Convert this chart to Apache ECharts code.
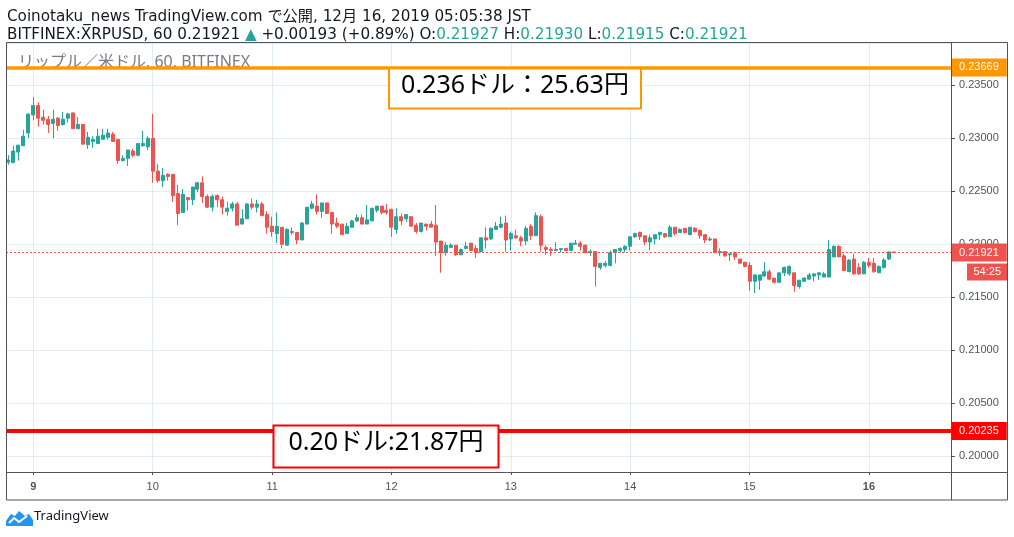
<!DOCTYPE html>
<html>
<head>
<meta charset="utf-8">
<script src="https://cdn.jsdelivr.net/npm/echarts@6/dist/echarts.min.js"></script>
<style>
html, body { margin: 0; padding: 0; background: #fff; }
#main { width: 1014px; height: 537px; }
</style>
</head>
<body>
<div id="main"></div>
<script>
// XRPUSD 60分足 (BITFINEX) 12/8 19:00 〜 12/16 05:00 JST
var firstDay = 8, firstHour = 19;
var slotCount = 190;          // 179本 + 右側の余白
var boldDays = [9, 16];

var opens = [
  0.22775, 0.2277, 0.2287, 0.2293, 0.2305, 0.2322, 0.2331, 0.2320, 0.2318, 0.2314,
  0.2319, 0.2313, 0.2319, 0.2324, 0.2309, 0.2313, 0.2294, 0.2297, 0.2295, 0.2299,
  0.2301, 0.2304, 0.2299, 0.2279, 0.2281, 0.2288, 0.2284, 0.2293, 0.2292, 0.2300,
  0.2269, 0.2260, 0.2266, 0.2266, 0.2248, 0.2230, 0.2244, 0.2242, 0.2252, 0.2258,
  0.2245, 0.2235, 0.2246, 0.2242, 0.2231, 0.2234, 0.2238, 0.2219, 0.2224, 0.2238,
  0.2235, 0.2238, 0.2228, 0.2217, 0.2210, 0.2216, 0.2199, 0.2212, 0.2211, 0.2204,
  0.2219, 0.2234, 0.2236, 0.2231, 0.2239, 0.2230, 0.2220, 0.2219, 0.2210, 0.2216,
  0.2222, 0.2225, 0.2219, 0.2222, 0.2232, 0.2236, 0.2232, 0.2233, 0.2214, 0.2226,
  0.2224, 0.2226, 0.2218, 0.2212, 0.2219, 0.2219, 0.2218, 0.2203, 0.2192, 0.2197,
  0.2199, 0.2190, 0.2196, 0.2201, 0.2196, 0.2193, 0.2206, 0.2205, 0.2214, 0.2216,
  0.2220, 0.2205, 0.2208, 0.2206, 0.2203, 0.2217, 0.2208, 0.2226, 0.2197, 0.2195,
  0.2194, 0.2195, 0.2196, 0.2194, 0.2200, 0.2201, 0.2199, 0.2192, 0.2193, 0.2178,
  0.2180, 0.2180, 0.2192, 0.2194, 0.2195, 0.2198, 0.2207, 0.2211, 0.2208, 0.2202,
  0.2205, 0.2209, 0.2210, 0.2207, 0.2216, 0.2211, 0.2215, 0.2209, 0.2215, 0.2213,
  0.2209, 0.2204, 0.2205, 0.2192, 0.2193, 0.2190, 0.2192, 0.2186, 0.2183, 0.2180,
  0.2165, 0.2166, 0.2170, 0.2174, 0.2168, 0.2164, 0.2173, 0.2172, 0.2173, 0.2160,
  0.2165, 0.2167, 0.2170, 0.2171, 0.2169, 0.2169, 0.2188, 0.2198, 0.2189, 0.2174,
  0.2186, 0.2178, 0.2172, 0.2183, 0.2182, 0.2173, 0.2178, 0.2186, 0.21927
];
var closes = [
  0.22795, 0.2288, 0.22935, 0.2302, 0.2323, 0.2331, 0.2319, 0.2317, 0.2313, 0.2318,
  0.2312, 0.2318, 0.2323, 0.2309, 0.2313, 0.22945, 0.2301, 0.2299, 0.2302, 0.2303,
  0.2305, 0.2297, 0.2279, 0.2281, 0.2289, 0.2284, 0.2295, 0.2295, 0.2300, 0.2269,
  0.2260, 0.2265, 0.2264, 0.2246, 0.2229, 0.2247, 0.2242, 0.2254, 0.2258, 0.2245,
  0.2235, 0.2245, 0.2242, 0.2235, 0.2234, 0.2238, 0.2218, 0.2224, 0.2238, 0.2235,
  0.2238, 0.2227, 0.2216, 0.2212, 0.2217, 0.2200, 0.2214, 0.2211, 0.2204, 0.2220,
  0.2235, 0.2238, 0.2231, 0.2239, 0.2229, 0.2219, 0.2217, 0.2209, 0.2217, 0.2222,
  0.2225, 0.2219, 0.2223, 0.2234, 0.2236, 0.2230, 0.2230, 0.2216, 0.2226, 0.2222,
  0.2228, 0.2217, 0.2212, 0.2220, 0.2217, 0.2216, 0.2202, 0.2192, 0.2199, 0.2199,
  0.2190, 0.2195, 0.2198, 0.2194, 0.2192, 0.2206, 0.2204, 0.2215, 0.2217, 0.2219,
  0.2204, 0.2210, 0.2206, 0.2203, 0.2215, 0.2208, 0.2227, 0.2199, 0.2195, 0.2194,
  0.2195, 0.2196, 0.2194, 0.2201, 0.2201, 0.2198, 0.2192, 0.2193, 0.2179, 0.2182,
  0.2182, 0.2192, 0.2195, 0.2196, 0.2198, 0.2207, 0.2210, 0.2207, 0.2202, 0.2206,
  0.2209, 0.2211, 0.2207, 0.2216, 0.2210, 0.2214, 0.2211, 0.2216, 0.2212, 0.2208,
  0.2204, 0.2205, 0.2192, 0.2193, 0.2189, 0.2191, 0.2188, 0.2182, 0.2179, 0.2165,
  0.2171, 0.2171, 0.2174, 0.2167, 0.2164, 0.2173, 0.2178, 0.2179, 0.2161, 0.2166,
  0.2168, 0.2171, 0.2172, 0.2173, 0.2172, 0.2195, 0.2198, 0.2188, 0.2175, 0.2185,
  0.2172, 0.2172, 0.2183, 0.2180, 0.2174, 0.2179, 0.2185, 0.21927, 0.21921
];
var lows = [
  0.2275, 0.2277, 0.2279, 0.2293, 0.2300, 0.2317, 0.2311, 0.2313, 0.2305, 0.2300,
  0.2307, 0.2312, 0.2315, 0.2309, 0.2309, 0.2294, 0.2290, 0.2291, 0.2295, 0.2299,
  0.2299, 0.2297, 0.2276, 0.2278, 0.2274, 0.2282, 0.2283, 0.2292, 0.2289, 0.2258,
  0.2258, 0.2254, 0.2260, 0.2240, 0.2218, 0.2230, 0.2232, 0.2237, 0.2249, 0.2239,
  0.2234, 0.2231, 0.2235, 0.2228, 0.2227, 0.2231, 0.2218, 0.2219, 0.2224, 0.2233,
  0.2230, 0.2227, 0.2210, 0.2207, 0.2201, 0.2196, 0.2199, 0.2209, 0.2200, 0.2204,
  0.2219, 0.2233, 0.2228, 0.2225, 0.2229, 0.2210, 0.2215, 0.2209, 0.2210, 0.2216,
  0.2221, 0.2219, 0.2219, 0.2222, 0.2230, 0.2228, 0.2228, 0.2207, 0.2210, 0.2218,
  0.2221, 0.2217, 0.2210, 0.2211, 0.2213, 0.2216, 0.2189, 0.2173, 0.2189, 0.2197,
  0.2189, 0.2190, 0.2196, 0.2194, 0.2187, 0.2192, 0.2196, 0.2204, 0.2214, 0.2215,
  0.2193, 0.2194, 0.2205, 0.2198, 0.2199, 0.2204, 0.2208, 0.2193, 0.2190, 0.2189,
  0.2194, 0.2192, 0.2193, 0.2194, 0.2200, 0.2194, 0.2192, 0.2189, 0.2160, 0.2176,
  0.2178, 0.2179, 0.2182, 0.2192, 0.2192, 0.2194, 0.2206, 0.2204, 0.2199, 0.2194,
  0.2200, 0.2204, 0.2206, 0.2207, 0.2208, 0.2211, 0.2210, 0.2209, 0.2211, 0.2205,
  0.2201, 0.2203, 0.2192, 0.2189, 0.2188, 0.2184, 0.2185, 0.2182, 0.2178, 0.2156,
  0.2154, 0.2157, 0.2169, 0.2166, 0.2163, 0.2164, 0.2170, 0.2170, 0.2155, 0.2158,
  0.2165, 0.2167, 0.2165, 0.2166, 0.2169, 0.2169, 0.2188, 0.2188, 0.2175, 0.2174,
  0.2171, 0.2171, 0.2172, 0.2178, 0.2173, 0.2173, 0.2177, 0.2185, 0.21915
];
var highs = [
  0.2284, 0.2293, 0.2294, 0.2308, 0.2323, 0.2339, 0.2334, 0.2327, 0.2321, 0.2327,
  0.2320, 0.2325, 0.2324, 0.2324, 0.2320, 0.2313, 0.2306, 0.2302, 0.2309, 0.2309,
  0.2309, 0.2306, 0.2299, 0.2284, 0.2289, 0.2290, 0.2295, 0.2307, 0.2302, 0.2323,
  0.2276, 0.2272, 0.2267, 0.2266, 0.2256, 0.2252, 0.2244, 0.2254, 0.2259, 0.2264,
  0.2247, 0.2247, 0.2247, 0.2245, 0.2240, 0.2240, 0.2240, 0.2233, 0.2239, 0.2243,
  0.2242, 0.2240, 0.2231, 0.2226, 0.2230, 0.2216, 0.2215, 0.2216, 0.2211, 0.2221,
  0.2235, 0.2241, 0.2247, 0.2239, 0.2239, 0.2230, 0.2225, 0.2219, 0.2220, 0.2223,
  0.2228, 0.2228, 0.2237, 0.2234, 0.2236, 0.2236, 0.2238, 0.2233, 0.2234, 0.2229,
  0.2228, 0.2226, 0.2220, 0.2220, 0.2219, 0.2222, 0.2237, 0.2203, 0.2202, 0.2201,
  0.2199, 0.2196, 0.2202, 0.2201, 0.2199, 0.2206, 0.2216, 0.2216, 0.2221, 0.2226,
  0.2227, 0.2212, 0.2214, 0.2208, 0.2217, 0.2219, 0.2230, 0.2228, 0.2199, 0.2197,
  0.2202, 0.2196, 0.2196, 0.2201, 0.2204, 0.2203, 0.2200, 0.2195, 0.2193, 0.2182,
  0.2184, 0.2194, 0.2195, 0.2197, 0.2199, 0.2207, 0.2211, 0.2212, 0.2208, 0.2209,
  0.2209, 0.2212, 0.2210, 0.2218, 0.2216, 0.2215, 0.2215, 0.2216, 0.2216, 0.2214,
  0.2209, 0.2207, 0.2205, 0.2196, 0.2193, 0.2191, 0.2193, 0.2186, 0.2183, 0.2183,
  0.2171, 0.2171, 0.2183, 0.2176, 0.2168, 0.2173, 0.2179, 0.2180, 0.2173, 0.2166,
  0.2169, 0.2173, 0.2172, 0.2173, 0.2174, 0.2204, 0.2199, 0.2199, 0.2191, 0.2186,
  0.2191, 0.2182, 0.2184, 0.2187, 0.2187, 0.2180, 0.2187, 0.2193, 0.21930
];

// 水平線
var resistance = 0.23669;
var support = 0.20235;
var lastPrice = 0.21921;
var countdown = '54:25';
var change = '+0.00193 (+0.89%)';

var UP = '#26a69a', DOWN = '#ef5350';
var GRID_L = 6, GRID_T = 43, GRID_R = 951, GRID_B = 472;
var FRAME_R = 1007, FRAME_B = 500;
var AXIS_COLOR = '#50535e', GRID_COLOR = '#e1ecf2';
var FONT = "'Liberation Sans', Arial, sans-serif";
var HFONT = "'DejaVu Sans', 'Noto Sans CJK JP', sans-serif";
var JFONT = "'Noto Sans', 'Noto Sans CJK JP', sans-serif";

var categories = [];
for (var i = 0; i < slotCount; i++) {
    var h = firstHour + i;
    var hh = h % 24;
    categories.push((firstDay + Math.floor(h / 24)) + ' ' + (hh < 10 ? '0' : '') + hh + ':00');
}
function isDayStart(idx) { return (firstHour + idx) % 24 === 0; }

var candles = opens.map(function (o, i) { return [o, closes[i], lows[i], highs[i]]; });
var last = opens.length - 1;

function levelLine(value, color, width, type) {
    return {
        yAxis: value,
        lineStyle: { color: color, width: width, type: type },
        label: {
            show: true, position: 'end', distance: 0,
            formatter: value.toFixed(5),
            backgroundColor: color, color: '#fff',
            padding: [3, 8, 3, 8], fontSize: 11, lineHeight: 12, fontFamily: FONT
        }
    };
}

var myChart = echarts.init(document.getElementById('main'));

var option = {
    animation: false,
    backgroundColor: '#fff',
    grid: { left: GRID_L, top: GRID_T, right: 1014 - GRID_R, bottom: 537 - GRID_B },
    xAxis: {
        type: 'category',
        data: categories,
        boundaryGap: true,
        axisLine: { show: false },
        axisTick: {
            show: true, interval: isDayStart, alignWithLabel: true, length: 3,
            lineStyle: { color: AXIS_COLOR }
        },
        axisLabel: {
            interval: isDayStart,
            margin: 9,
            color: AXIS_COLOR,
            fontSize: 11,
            fontFamily: FONT,
            formatter: function (val) {
                var d = parseInt(val, 10);
                return boldDays.indexOf(d) >= 0 ? '{b|' + d + '}' : String(d);
            },
            rich: { b: { fontWeight: 'bold', fontSize: 11, color: AXIS_COLOR, fontFamily: FONT } }
        },
        splitLine: {
            show: true, interval: isDayStart, alignWithLabel: true,
            lineStyle: { color: GRID_COLOR, width: 1 }
        }
    },
    yAxis: {
        type: 'value',
        position: 'right',
        scale: true,
        min: 0.19849,
        max: 0.2390,
        splitNumber: 8,
        axisLine: { show: false },
        axisTick: { show: true, length: 4, lineStyle: { color: AXIS_COLOR } },
        axisLabel: {
            margin: 8, color: AXIS_COLOR, fontSize: 11, fontFamily: FONT,
            showMinLabel: false, showMaxLabel: false,
            formatter: function (v) { return v.toFixed(5); }
        },
        splitLine: { lineStyle: { color: GRID_COLOR, width: 1 } }
    },
    series: [{
        name: 'XRPUSD',
        type: 'candlestick',
        data: candles,
        barWidth: '70%',
        itemStyle: {
            color: UP, color0: DOWN,
            borderColor: UP, borderColor0: DOWN, borderWidth: 1
        },
        markLine: {
            silent: true,
            precision: 5,
            symbol: ['none', 'none'],
            animation: false,
            data: [
                levelLine(resistance, '#ff9800', 3.5, 'solid'),
                levelLine(support, '#ff0000', 4, 'solid'),
                levelLine(lastPrice, DOWN, 1, [2, 2])
            ]
        }
    }],
    graphic: [
        // ヘッダー
        {
            type: 'text', left: 7, top: 9, z: 100,
            style: {
                text: 'Coinotaku_news TradingView.com で公開, 12月 16, 2019 05:05:38 JST',
                fill: '#131722', font: '15.2px ' + HFONT
            }
        },
        {
            type: 'text', left: 7, top: 27, z: 100,
            style: {
                text: '{k|BITFINEX:XRPUSD, 60 ' + lastPrice.toFixed(5) + ' }{t|▲}{k| ' + change + ' O:}{t|' + opens[last].toFixed(5) +
                      '}{k| H:}{t|' + highs[last].toFixed(5) + '}{k| L:}{t|' + lows[last].toFixed(5) +
                      '}{k| C:}{t|' + closes[last].toFixed(5) + '}',
                font: '15.2px ' + HFONT,
                rich: {
                    k: { fill: '#131722', font: '15.2px ' + HFONT },
                    t: { fill: UP, font: '15.2px ' + HFONT }
                }
            }
        },
        {
            type: 'text', left: 18, top: 54, z: 1,
            style: { text: 'リップル／米ドル, 60, BITFINEX', fill: '#787b86', font: '16px ' + JFONT }
        },
        // 枠線
        {
            type: 'rect', z: 100, silent: true,
            shape: { x: GRID_L + 0.5, y: GRID_T - 0.5, width: FRAME_R - GRID_L, height: FRAME_B - GRID_T + 0.5 },
            style: { fill: 'none', stroke: AXIS_COLOR, lineWidth: 1 }
        },
        {
            type: 'line', z: 100, silent: true,
            shape: { x1: GRID_R + 0.5, y1: GRID_T, x2: GRID_R + 0.5, y2: FRAME_B },
            style: { stroke: AXIS_COLOR, lineWidth: 1 }
        },
        {
            type: 'line', z: 100, silent: true,
            shape: { x1: GRID_L, y1: GRID_B + 0.5, x2: FRAME_R, y2: GRID_B + 0.5 },
            style: { stroke: AXIS_COLOR, lineWidth: 1 }
        },
        // 注記
        {
            type: 'group', z: 100,
            children: [
                {
                    type: 'rect', z: 100,
                    shape: { x: 389, y: 68.5, width: 252, height: 40 },
                    style: { fill: '#fff', stroke: '#ff9800', lineWidth: 2 }
                },
                {
                    type: 'text', z: 101,
                    style: {
                        x: 515, y: 86, text: '0.236ドル：25.63円',
                        align: 'center', verticalAlign: 'middle',
                        fill: '#000', font: '25px ' + JFONT
                    }
                },
                {
                    type: 'rect', z: 100,
                    shape: { x: 273.5, y: 425.5, width: 225, height: 42 },
                    style: { fill: '#fff', stroke: '#ff0000', lineWidth: 2 }
                },
                {
                    type: 'text', z: 101,
                    style: {
                        x: 386, y: 443, text: '0.20ドル:21.87円',
                        align: 'center', verticalAlign: 'middle',
                        fill: '#000', font: '25px ' + JFONT
                    }
                }
            ]
        },
        // ロゴ
        {
            type: 'polygon', z: 100,
            shape: { points: [[6, 526], [6, 521], [11, 514], [15, 516], [19, 511], [25, 516], [29, 514], [33, 520], [33, 526]] },
            style: { fill: '#2196f3' }
        },
        {
            type: 'polyline', z: 101,
            shape: { points: [[9, 523], [14, 518], [19, 522], [27, 516]] },
            style: { stroke: '#fff', lineWidth: 2, fill: 'none' }
        },
        {
            type: 'text', left: 34, top: 510, z: 100,
            style: { text: 'TradingView', fill: '#131722', font: '13px ' + JFONT }
        }
    ]
};

myChart.setOption(option);

// 残り時間ラベル
var priceY = myChart.convertToPixel({ yAxisIndex: 0 }, lastPrice);
myChart.setOption({
    graphic: option.graphic.concat([
        {
            type: 'rect', z: 100,
            shape: { x: 967, y: priceY + 11, width: 40, height: 17 },
            style: { fill: DOWN }
        },
        {
            type: 'text', z: 101,
            style: {
                x: 1001, y: priceY + 19.5, text: countdown, align: 'right', verticalAlign: 'middle',
                fill: '#fff', font: '11px ' + FONT
            }
        }
    ])
});
</script>
</body>
</html>
